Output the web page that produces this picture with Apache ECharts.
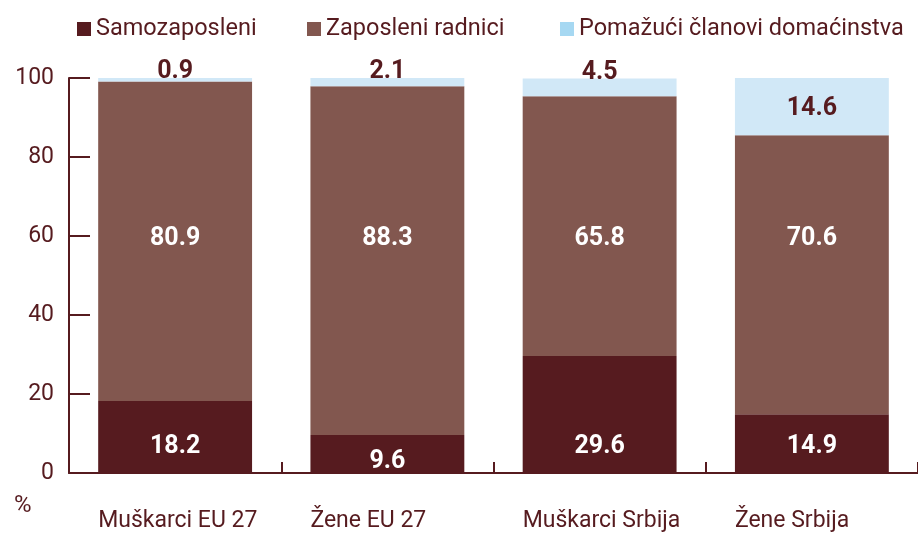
<!DOCTYPE html>
<html>
<head>
<meta charset="utf-8">
<script src="https://cdn.jsdelivr.net/npm/echarts@6/dist/echarts.min.js"></script>
<style>
html,body{margin:0;padding:0;background:#fff;}
#chart{width:918px;height:536px;}
</style>
</head>
<body>
<div id="chart"></div>
<script>
var categories = ['Muškarci EU 27', 'Žene EU 27', 'Muškarci Srbija', 'Žene Srbija'];
var seriesNames = ['Samozaposleni', 'Zaposleni radnici', 'Pomažući članovi domaćinstva'];
var selfEmployed = [18.2, 9.6, 29.6, 14.9];
var employees = [80.9, 88.3, 65.8, 70.6];
var familyWorkers = [0.9, 2.1, 4.5, 14.6];
var yTicks = [0, 20, 40, 60, 80, 100];

var MAROON = '#561b1f';
var BROWN = '#82574f';
var LIGHT = '#d1e8f7';
var LEGEND_LIGHT = '#a6d8f2';
var FONT = 'Roboto';
var legendColors = [MAROON, BROWN, LEGEND_LIGHT];
var legendLefts = [77, 307, 560];

var chart = echarts.init(document.getElementById('chart'), null, {renderer: 'canvas'});

var labelBase = {show: true, fontFamily: FONT, fontWeight: 'bold', fontSize: 25, lineHeight: 26,
  formatter: function (p) { return p.value.toFixed(1); }};

var bottomData = selfEmployed.map(function (v) {
  return {value: v, label: {distance: v < 12 ? -2 : 13}};
});
var topData = familyWorkers.map(function (v) {
  return {value: v, label: v < 10 ? {position: 'top', distance: -7} : {position: 'inside', offset: [0, 2]}};
});

var legends = seriesNames.map(function (n, i) {
  return {
    left: legendLefts[i], top: 17, padding: 0, icon: 'rect', itemWidth: 14, itemHeight: 14,
    selectedMode: false,
    textStyle: {color: MAROON, fontSize: 23.5, fontFamily: FONT},
    data: [{name: n, itemStyle: {color: legendColors[i]}}]
  };
});

var option = {
  animation: false,
  textStyle: {fontFamily: FONT},
  legend: legends,
  grid: {left: 69, right: 0, top: 78, bottom: 63, containLabel: false},
  xAxis: {
    type: 'category', data: categories,
    axisLine: {show: true, lineStyle: {color: MAROON, width: 2}},
    axisTick: {show: true, inside: true, length: 11, interval: 0, alignWithLabel: false,
      lineStyle: {color: MAROON, width: 2}},
    axisLabel: {
      interval: 0,
      color: MAROON, fontSize: 23, fontFamily: FONT, margin: 37,
      formatter: function (v) { return '{a|' + v + '}'; },
      rich: {a: {width: 154, align: 'left', color: MAROON, fontSize: 23, fontFamily: FONT}}
    }
  },
  yAxis: {
    type: 'value', min: 0, max: 100, interval: 20,
    axisLine: {show: true, lineStyle: {color: MAROON, width: 2}},
    axisTick: {show: true, inside: true, length: 21, lineStyle: {color: MAROON, width: 2}},
    splitLine: {show: false},
    axisLabel: {color: MAROON, fontSize: 23, fontFamily: FONT, margin: 15,
      formatter: function (v) { return yTicks.indexOf(v) >= 0 ? String(v) : ''; }}
  },
  graphic: [{
    type: 'text', left: 14, top: 494,
    style: {text: '%', fill: MAROON, font: '24px ' + FONT}
  }],
  series: [
    {name: seriesNames[0], type: 'bar', stack: 'a', barWidth: '72.5%', data: bottomData,
      itemStyle: {color: MAROON},
      label: Object.assign({}, labelBase, {position: 'insideBottom', color: '#fff'})},
    {name: seriesNames[1], type: 'bar', stack: 'a', barWidth: '72.5%', data: employees.slice(),
      itemStyle: {color: BROWN},
      label: Object.assign({}, labelBase, {position: 'inside', color: '#fff'})},
    {name: seriesNames[2], type: 'bar', stack: 'a', barWidth: '72.5%', data: topData,
      itemStyle: {color: LIGHT},
      label: Object.assign({}, labelBase, {color: MAROON})}
  ]
};
chart.setOption(option);

// place middle labels at the level of 60 on the value axis
var target = chart.convertToPixel({yAxisIndex: 0}, 60);
var midData = employees.map(function (v, i) {
  var centerVal = selfEmployed[i] + v / 2;
  var c = chart.convertToPixel({yAxisIndex: 0}, centerVal);
  return {value: v, label: {offset: [0, target - c + 3]}};
});
chart.setOption({series: [{}, {data: midData}, {}]});
</script>
</body>
</html>
